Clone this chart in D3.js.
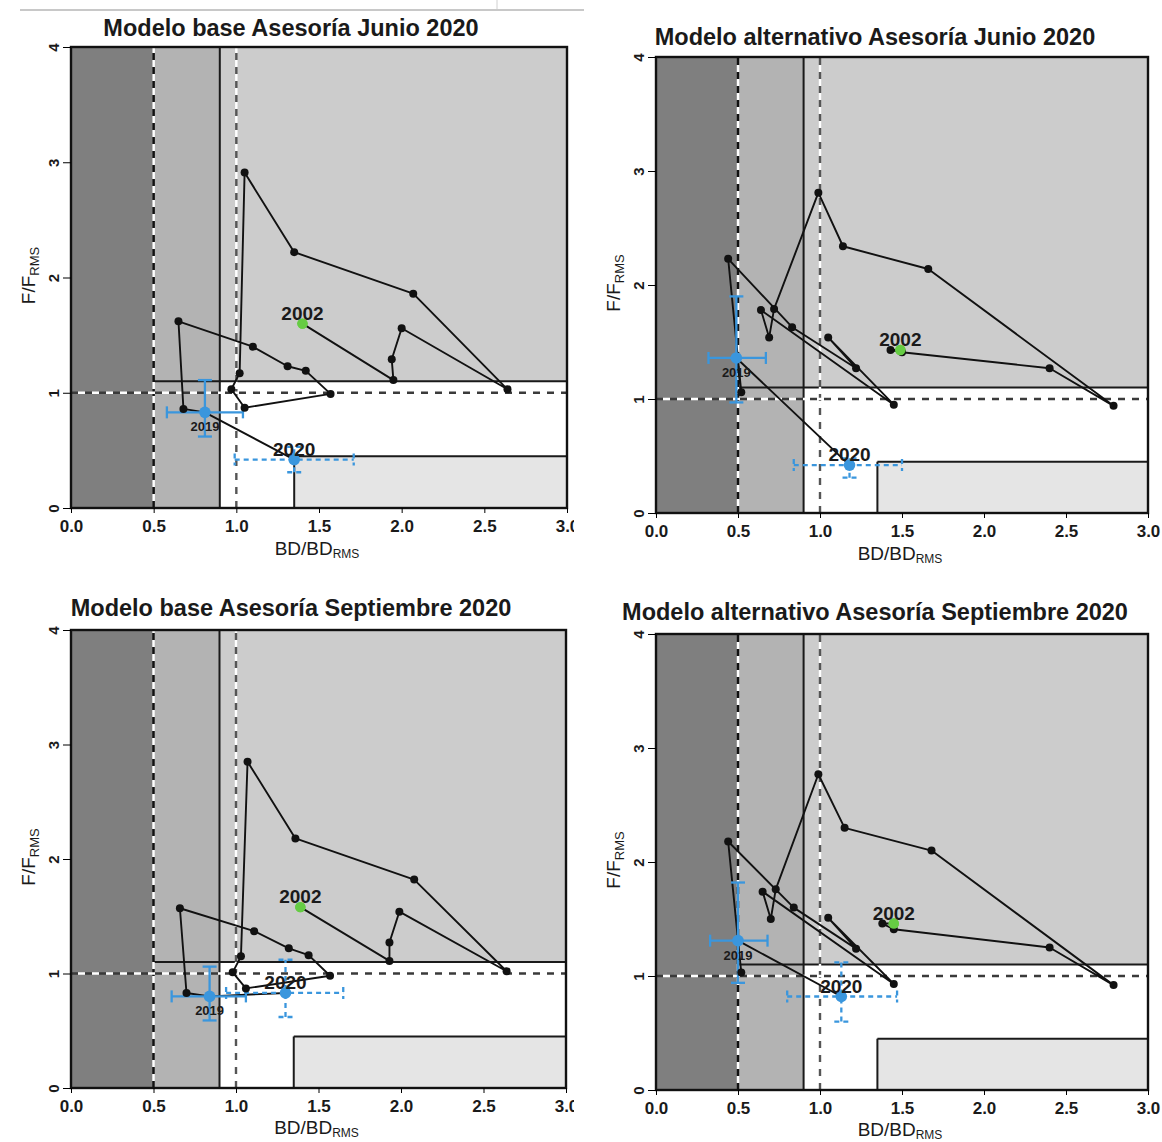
<!DOCTYPE html>
<html>
<head>
<meta charset="utf-8">
<script src="https://cdn.jsdelivr.net/npm/d3@7/dist/d3.min.js"></script>
<style>
body { margin: 0; background: #fff; }
text { font-family: "Liberation Sans", Arial, sans-serif; fill: #1a1a1a; }
</style>
</head>
<body>
<div id="chart"></div>
<script>
// one point per year, 2002 (green) ... 2019, 2020 (blue)
var years = [2002, 2003, 2004, 2005, 2006, 2007, 2008, 2009, 2010, 2011,
             2012, 2013, 2014, 2015, 2016, 2017, 2018, 2019, 2020];

var baseJunBD = [1.40, 1.95, 1.94, 2.00, 2.64, 2.07, 1.35, 1.05, 1.02, 0.97, 1.05, 1.57, 1.42, 1.31, 1.10, 0.65, 0.68, 0.81, 1.35];
var baseJunF  = [1.60, 1.11, 1.29, 1.56, 1.03, 1.86, 2.22, 2.91, 1.17, 1.03, 0.87, 0.99, 1.19, 1.23, 1.40, 1.62, 0.86, 0.83, 0.42];

var altJunBD = [1.49, 1.43, 1.50, 2.40, 2.79, 1.66, 1.14, 0.99, 0.72, 0.69, 0.64, 1.45, 1.05, 1.22, 0.83, 0.44, 0.52, 0.49, 1.18];
var altJunF  = [1.43, 1.43, 1.41, 1.27, 0.94, 2.14, 2.34, 2.81, 1.79, 1.54, 1.78, 0.95, 1.54, 1.27, 1.63, 2.23, 1.06, 1.36, 0.42];

var baseSepBD = [1.39, 1.93, 1.93, 1.99, 2.64, 2.08, 1.36, 1.07, 1.03, 0.98, 1.06, 1.57, 1.44, 1.32, 1.11, 0.66, 0.70, 0.84, 1.30];
var baseSepF  = [1.58, 1.11, 1.27, 1.54, 1.02, 1.82, 2.18, 2.85, 1.15, 1.01, 0.87, 0.98, 1.16, 1.22, 1.37, 1.57, 0.83, 0.80, 0.83];

var altSepBD = [1.45, 1.38, 1.45, 2.40, 2.79, 1.68, 1.15, 0.99, 0.73, 0.70, 0.65, 1.45, 1.05, 1.22, 0.84, 0.44, 0.52, 0.50, 1.13];
var altSepF  = [1.46, 1.46, 1.41, 1.25, 0.92, 2.10, 2.30, 2.77, 1.76, 1.50, 1.74, 0.93, 1.51, 1.24, 1.60, 2.18, 1.03, 1.31, 0.82];

// error ranges for [2019, 2020]
var baseJunErrBD = [[0.58, 1.04], [0.99, 1.71]];
var baseJunErrF  = [[0.62, 1.11], [0.31, 0.53]];
var altJunErrBD  = [[0.32, 0.67], [0.84, 1.50]];
var altJunErrF   = [[0.97, 1.90], [0.31, 0.48]];
var baseSepErrBD = [[0.61, 1.06], [0.94, 1.65]];
var baseSepErrF  = [[0.59, 1.06], [0.62, 1.12]];
var altSepErrBD  = [[0.33, 0.68], [0.80, 1.47]];
var altSepErrF   = [[0.94, 1.82], [0.60, 1.12]];

// reference points of the diagram
var bdLimit = 0.5, bdBuffer = 0.9, bdRms = 1.0, bdBox = 1.35;
var fBox = 0.45, fRms = 1.0, fLimit = 1.1;

var xTicks = [0, 0.5, 1, 1.5, 2, 2.5, 3];
var yTicks = [0, 1, 2, 3, 4];

var titles = ["Modelo base Asesoría Junio 2020", "Modelo alternativo Asesoría Junio 2020",
              "Modelo base Asesoría Septiembre 2020", "Modelo alternativo Asesoría Septiembre 2020"];

var panels = [
    {title: titles[0], bd: baseJunBD, f: baseJunF, ebd: baseJunErrBD, ef: baseJunErrF,
     left: 71, right: 567, top: 47, bottom: 508, tx: 291, ty: 36, xt: 47, clip: true},
    {title: titles[1], bd: altJunBD, f: altJunF, ebd: altJunErrBD, ef: altJunErrF,
     left: 656, right: 1148, top: 57, bottom: 513, tx: 875, ty: 45, xt: 47, clip: false},
    {title: titles[2], bd: baseSepBD, f: baseSepF, ebd: baseSepErrBD, ef: baseSepErrF,
     left: 71, right: 566, top: 630, bottom: 1088, tx: 291, ty: 616, xt: 46, clip: true},
    {title: titles[3], bd: altSepBD, f: altSepF, ebd: altSepErrBD, ef: altSepErrF,
     left: 656, right: 1148, top: 634, bottom: 1090, tx: 875, ty: 620, xt: 46, clip: false}
];

var width = 1162, height = 1142;
var blue = "#3a96dd", green = "#66cc44";

var svg = d3.select("#chart").append("svg")
    .attr("width", width)
    .attr("height", height);

svg.append("clipPath").attr("id", "leftClip")
    .append("rect").attr("x", 0).attr("y", 0).attr("width", 574).attr("height", height);

// bit of window chrome at the top left of the screenshot
svg.append("line").attr("x1", 20).attr("x2", 584).attr("y1", 10).attr("y2", 10)
    .style("stroke", "#c8c8c8").style("stroke-width", 2);
svg.append("line").attr("x1", 497).attr("x2", 497).attr("y1", 0).attr("y2", 9)
    .style("stroke", "#d0d0d0").style("stroke-width", 1);

function dashedRef(g, x1, y1, x2, y2, dark) {
    g.append("line").attr("x1", x1).attr("y1", y1).attr("x2", x2).attr("y2", y2)
        .style("stroke", "#fff").style("stroke-width", 2.4)
        .style("stroke-dasharray", "7,7").style("stroke-dashoffset", 7);
    g.append("line").attr("x1", x1).attr("y1", y1).attr("x2", x2).attr("y2", y2)
        .style("stroke", dark).style("stroke-width", 2.4)
        .style("stroke-dasharray", "7,7");
}

function drawPanel(p) {
    var x = d3.scaleLinear().domain([0, 3]).range([p.left, p.right]);
    var y = d3.scaleLinear().domain([0, 4]).range([p.bottom, p.top]);

    var g = svg.append("g");
    if (p.clip) g.attr("clip-path", "url(#leftClip)");

    // zones
    g.append("rect").attr("x", x(0)).attr("y", y(4))
        .attr("width", x(bdLimit) - x(0)).attr("height", y(0) - y(4))
        .style("fill", "#7f7f7f");
    g.append("rect").attr("x", x(bdLimit)).attr("y", y(4))
        .attr("width", x(bdBuffer) - x(bdLimit)).attr("height", y(0) - y(4))
        .style("fill", "#b3b3b3");
    g.append("rect").attr("x", x(bdBuffer)).attr("y", y(4))
        .attr("width", x(3) - x(bdBuffer)).attr("height", y(fLimit) - y(4))
        .style("fill", "#cccccc");
    g.append("rect").attr("x", x(bdBuffer)).attr("y", y(fLimit))
        .attr("width", x(3) - x(bdBuffer)).attr("height", y(0) - y(fLimit))
        .style("fill", "#ffffff");
    g.append("rect").attr("x", x(bdBox)).attr("y", y(fBox))
        .attr("width", x(3) - x(bdBox)).attr("height", y(0) - y(fBox))
        .style("fill", "#e5e5e5");

    // solid limits
    var solid = [
        [bdBuffer, 0, bdBuffer, 4],
        [bdLimit, fLimit, 3, fLimit],
        [bdBox, 0, bdBox, fBox],
        [bdBox, fBox, 3, fBox]
    ];
    g.selectAll(".solid").data(solid).enter().append("line")
        .attr("class", "solid")
        .attr("x1", function(d) { return x(d[0]); })
        .attr("y1", function(d) { return y(d[1]); })
        .attr("x2", function(d) { return x(d[2]); })
        .attr("y2", function(d) { return y(d[3]); })
        .style("stroke", "#1a1a1a")
        .style("stroke-width", 2);

    // dashed references
    dashedRef(g, x(bdLimit), y(0), x(bdLimit), y(4), "#111");
    dashedRef(g, x(bdRms), y(0), x(bdRms), y(4), "#555");
    dashedRef(g, x(0), y(fRms), x(3), y(fRms), "#3a3a3a");

    var pts = years.map(function(yr, i) {
        return {year: yr, bd: p.bd[i], f: p.f[i]};
    });
    var n = pts.length;

    var line = d3.line()
        .x(function(d) { return x(d.bd); })
        .y(function(d) { return y(d.f); });

    g.append("path").datum(pts)
        .attr("d", line)
        .style("fill", "none")
        .style("stroke", "#111")
        .style("stroke-width", 1.9)
        .style("stroke-linejoin", "round");

    // error bars: 2019 solid, 2020 dashed
    [n - 2, n - 1].forEach(function(idx, k) {
        var d = pts[idx];
        var eb = p.ebd[k], ef = p.ef[k];
        var dash = k === 1 ? "5,4" : null;
        var segs = [
            [x(eb[0]), y(d.f), x(eb[1]), y(d.f)],
            [x(d.bd), y(ef[0]), x(d.bd), y(ef[1])],
            [x(eb[0]), y(d.f) - 6, x(eb[0]), y(d.f) + 6],
            [x(eb[1]), y(d.f) - 6, x(eb[1]), y(d.f) + 6],
            [x(d.bd) - 7, y(ef[0]), x(d.bd) + 7, y(ef[0])],
            [x(d.bd) - 7, y(ef[1]), x(d.bd) + 7, y(ef[1])]
        ];
        g.selectAll(null).data(segs).enter().append("line")
            .attr("x1", function(s) { return s[0]; })
            .attr("y1", function(s) { return s[1]; })
            .attr("x2", function(s) { return s[2]; })
            .attr("y2", function(s) { return s[3]; })
            .style("stroke", blue)
            .style("stroke-width", 2.3)
            .style("stroke-dasharray", dash);
    });

    g.selectAll(".pt").data(pts).enter().append("circle")
        .attr("class", "pt")
        .attr("cx", function(d) { return x(d.bd); })
        .attr("cy", function(d) { return y(d.f); })
        .attr("r", function(d, i) { return i >= n - 2 ? 5.8 : (i === 0 ? 5.2 : 4); })
        .style("fill", function(d, i) {
            if (i === 0) return green;
            if (i >= n - 2) return blue;
            return "#111";
        });
    // keep the green first point on top
    g.append("circle").attr("cx", x(pts[0].bd)).attr("cy", y(pts[0].f)).attr("r", 5.2)
        .style("fill", green);

    // year labels
    g.append("text").attr("x", x(pts[0].bd)).attr("y", y(pts[0].f) - 4)
        .attr("text-anchor", "middle").style("font-size", "19px").style("font-weight", "bold")
        .text(pts[0].year);
    g.append("text").attr("x", x(pts[n - 1].bd)).attr("y", y(pts[n - 1].f) - 4)
        .attr("text-anchor", "middle").style("font-size", "19px").style("font-weight", "bold")
        .text(pts[n - 1].year);
    g.append("text").attr("x", x(pts[n - 2].bd)).attr("y", y(pts[n - 2].f) + 19)
        .attr("text-anchor", "middle").style("font-size", "13px").style("font-weight", "bold")
        .text(pts[n - 2].year);

    // frame
    g.append("rect").attr("x", x(0)).attr("y", y(4))
        .attr("width", x(3) - x(0)).attr("height", y(0) - y(4))
        .style("fill", "none").style("stroke", "#111").style("stroke-width", 2.4);

    // axes
    var xAxis = g.append("g").attr("transform", "translate(0," + y(0) + ")")
        .call(d3.axisBottom(x).tickValues(xTicks).tickFormat(d3.format(".1f")).tickSize(5));
    xAxis.select(".domain").remove();
    xAxis.selectAll("text").attr("y", 12)
        .style("font-size", "17px").style("font-weight", "bold")
        .style("font-family", "'Liberation Sans', Arial, sans-serif").attr("fill", "#1a1a1a");

    var yAxis = g.append("g").attr("transform", "translate(" + x(0) + ",0)")
        .call(d3.axisLeft(y).tickValues(yTicks).tickFormat(d3.format("d")).tickSize(8));
    yAxis.select(".domain").remove();
    yAxis.selectAll("text")
        .attr("transform", "rotate(-90)")
        .attr("x", 0).attr("y", -12).attr("dy", null)
        .attr("text-anchor", "middle")
        .style("font-size", "15px").style("font-weight", "bold")
        .style("font-family", "'Liberation Sans', Arial, sans-serif").attr("fill", "#1a1a1a");

    // axis titles
    var xt = g.append("text")
        .attr("x", (x(0) + x(3)) / 2 - 2).attr("y", y(0) + p.xt)
        .attr("text-anchor", "middle").style("font-size", "19px");
    xt.append("tspan").text("BD/BD");
    xt.append("tspan").attr("dy", 3).style("font-size", "12px").text("RMS");

    var yt = g.append("text")
        .attr("transform", "translate(" + (x(0) - 36) + "," + ((y(0) + y(4)) / 2 - 2) + ") rotate(-90)")
        .attr("text-anchor", "middle").style("font-size", "19px");
    yt.append("tspan").text("F/F");
    yt.append("tspan").attr("dy", 4).style("font-size", "13px").text("RMS");

    // title
    g.append("text").attr("x", p.tx).attr("y", p.ty)
        .attr("text-anchor", "middle")
        .style("font-size", "23.5px").style("font-weight", "bold")
        .text(p.title);
}

panels.forEach(drawPanel);
</script>
</body>
</html>
